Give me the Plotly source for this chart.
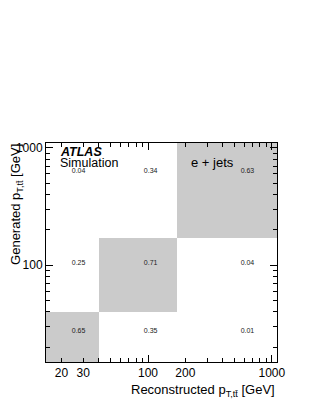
import numpy as np
import plotly.graph_objects as go

# ---- data ----
bin_edges = [15, 40, 170, 1100]          # GeV, same for reco (x) and generated (y)
# rows: generated bins (low -> high), columns: reconstructed bins (low -> high)
row_low = [0.65, 0.35, 0.01]
row_mid = [0.25, 0.71, 0.04]
row_high = [0.04, 0.34, 0.63]
x_tick_vals = [20, 30, 100, 200, 1000]
x_tick_text = ["20", "30", "100", "200", "1000"]
y_tick_vals = [100, 1000]
y_tick_text = ["100", "1000"]
major_vals = [100, 1000]
minor_vals = [20, 30, 40, 50, 60, 70, 80, 90, 200, 300, 400, 500, 600, 700, 800, 900]
x_minor_vals = [40, 50, 60, 70, 80, 90, 300, 400, 500, 600, 700, 800, 900]

z = [row_low, row_mid, row_high]
centers = [(bin_edges[i] + bin_edges[i + 1]) / 2 for i in range(len(bin_edges) - 1)]

FONT = "Liberation Sans, Arial, Helvetica, sans-serif"
GRAY = "#cbcbcb"

fig = go.Figure()
fig.add_trace(go.Heatmap(
    x=bin_edges, y=bin_edges, z=z,
    zmin=0, zmax=1,
    colorscale=[[0, "white"], [0.5, "white"], [0.5, GRAY], [1, GRAY]],
    showscale=False, hoverinfo="skip",
))

tx, ty, tt = [], [], []
for j, row in enumerate(z):
    for i, v in enumerate(row):
        tx.append(centers[i]); ty.append(centers[j]); tt.append(f"{v:.2f}")
fig.add_trace(go.Scatter(
    x=tx, y=ty, text=tt, mode="text",
    textfont=dict(family=FONT, size=7, color="#222222"),
    hoverinfo="skip", showlegend=False,
))
# invisible trace on overlay axes
fig.add_trace(go.Scatter(x=[centers[0]], y=[centers[0]], xaxis="x2", yaxis="y2",
                         mode="markers", marker=dict(opacity=0), showlegend=False,
                         hoverinfo="skip"))

xr = [np.log10(bin_edges[0]), np.log10(bin_edges[-1])]
common = dict(type="log", range=xr, ticks="inside", ticklen=4, tickwidth=1,
              tickcolor="black", showgrid=False, zeroline=False, automargin=False,
              showline=True, linecolor="black", linewidth=1, mirror="ticks",
              tickfont=dict(family=FONT, size=12, color="black"))

fig.update_layout(
    width=299, height=391,
    margin=dict(l=38, r=30, t=135, b=37, autoexpand=False),
    paper_bgcolor="white", plot_bgcolor="white",
    showlegend=False,
    xaxis=dict(**common, tickmode="array", tickvals=x_tick_vals, ticktext=x_tick_text,
               minor=dict(tickmode="array", tickvals=x_minor_vals, ticks="inside",
                          ticklen=4, tickcolor="black", showgrid=False)),
    yaxis=dict(**common, tickmode="array", tickvals=y_tick_vals, ticktext=y_tick_text,
               minor=dict(tickmode="array", tickvals=minor_vals, ticks="inside",
                          ticklen=4, tickcolor="black", showgrid=False)),
    xaxis2=dict(type="log", range=xr, overlaying="x", side="bottom", anchor="y2",
                tickmode="array", tickvals=major_vals, ticks="inside", ticklen=7,
                tickcolor="black", showticklabels=False, showgrid=False, automargin=False,
                zeroline=False, showline=False, mirror="ticks"),
    yaxis2=dict(type="log", range=xr, overlaying="y", side="left", anchor="x2",
                tickmode="array", tickvals=major_vals, ticks="inside", ticklen=7,
                tickcolor="black", showticklabels=False, showgrid=False, automargin=False,
                zeroline=False, showline=False, mirror="ticks"),
)

ann = [
    dict(text="<b><i>ATLAS</i></b>", x=0.053, y=0.957, xanchor="left", yanchor="middle",
         font=dict(family=FONT, size=12.5, color="black")),
    dict(text="Simulation", x=0.053, y=0.909, xanchor="left", yanchor="middle",
         font=dict(family=FONT, size=12.5, color="black")),
    dict(text="e + jets", x=0.619, y=0.913, xanchor="left", yanchor="middle",
         font=dict(family=FONT, size=13, color="black")),
    dict(text="Reconstructed p<sub>T,tt̄</sub> [GeV]", x=1.0, y=-0.128,
         xanchor="right", yanchor="middle",
         font=dict(family=FONT, size=13, color="black")),
    dict(text="Generated p<sub>T,tt̄</sub> [GeV]", x=-0.128, y=1.0, textangle=-90,
         xanchor="center", yanchor="top", borderpad=0,
         font=dict(family=FONT, size=13, color="black")),
]
for a in ann:
    a.update(xref="paper", yref="paper", showarrow=False)
fig.update_layout(annotations=ann)

fig.write_html("out.html")
